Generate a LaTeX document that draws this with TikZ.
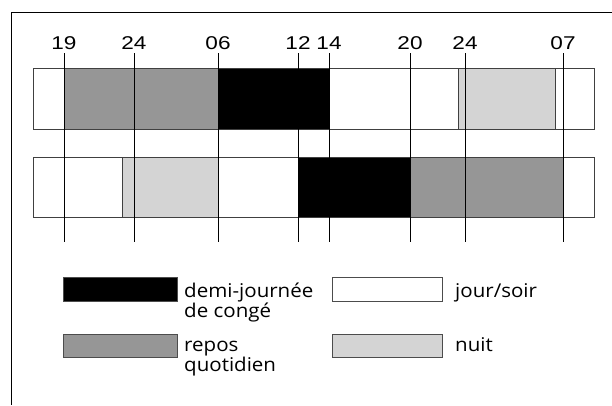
\documentclass[tikz,border=0pt]{standalone}
\usepackage{fontspec}
\setmainfont{Liberation Sans}[FakeStretch=1.22]
\newfontfamily\legendfont{Open Sans}[FakeStretch=1.08]

\tikzset{
  jour/.style={fill=white},
  conge/.style={fill=black},
  repos/.style={fill=black!41},
  nuit/.style={fill=black!17},
  seg/.style={draw=black!75, line width=0.7pt},
  hour/.style={anchor=base, inner sep=0pt, font=\fontsize{18.5}{20}\selectfont},
  keybox/.style={draw=black!70, line width=0.9pt, minimum width=114pt, minimum height=24pt, inner sep=0pt, anchor=north west},
  keytext/.style={anchor=base west, inner sep=0pt, align=left, font=\legendfont\fontsize{19}{20}\selectfont},
}

\begin{document}
\begin{tikzpicture}[x=1pt, y=-1pt]
  \useasboundingbox (0,0) rectangle (612,405);
  % open frame: only the top and left sides show
  \draw[line width=1pt] (612,12.5) -- (11.5,12.5) -- (11.5,405);

  % first roster line
  \foreach \a/\b/\s in {33/64/jour, 64/218/repos, 218/329/conge, 329/458/jour, 458/555/nuit, 555/594/jour}
    \path[\s, seg] (\a,68) rectangle (\b,129);
  \draw[black!75, line width=0.8pt] (33,68) rectangle (594,129);

  % second roster line
  \foreach \a/\b/\s in {33/122/jour, 122/218/nuit, 218/298/jour, 298/410/conge, 410/563/repos, 563/594/jour}
    \path[\s, seg] (\a,157) rectangle (\b,217);
  \draw[black!75, line width=0.8pt] (33,157) rectangle (594,217);

  % hour marks across both lines
  \foreach \x/\h [count=\i] in {64/19, 134/24, 218/06, 298/12, 329/14, 410/20, 465/24, 563/07} {
    \node[hour] (t\i) at (\x,49) {\h};
    \draw[line width=0.9pt] (\x,53) -- (\x,242);
  }

  % legend (two-line labels sit on their last baseline)
  \node[keybox, conge] (kconge) at (63,277) {};
  \node[keytext] (lconge) at (184,317) {demi-journée\\de congé};
  \node[keybox, jour, minimum width=110pt] (kjour) at (332,277) {};
  \node[keytext] (ljour) at (455,297) {jour/soir};
  \node[keybox, repos, minimum height=23pt] (krepos) at (63,334) {};
  \node[keytext] (lrepos) at (184,371) {repos\\quotidien};
  \node[keybox, nuit, minimum width=110pt, minimum height=23pt] (knuit) at (332,334) {};
  \node[keytext] (lnuit) at (455,351) {nuit};
\end{tikzpicture}
\end{document}
